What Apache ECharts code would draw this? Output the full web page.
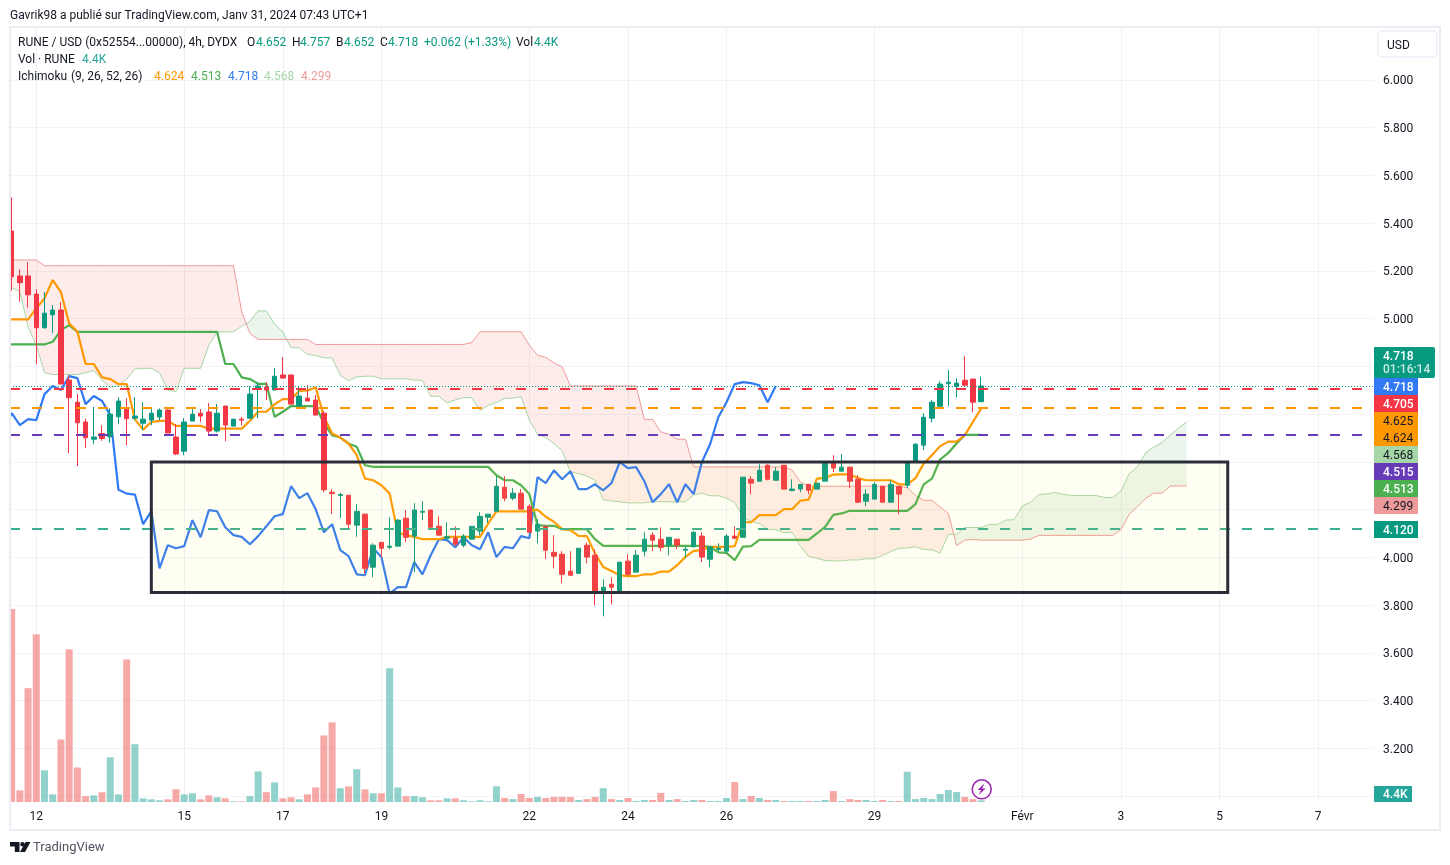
<!DOCTYPE html>
<html>
<head>
<meta charset="utf-8">
<title>RUNE / USD</title>
<style>html,body{margin:0;padding:0;background:#fff}#c{width:1450px;height:865px}</style>
<script src="https://cdn.jsdelivr.net/npm/echarts@6/dist/echarts.min.js"></script>
</head>
<body>
<div id="c"></div>
<script>
const opens = [5.367,5.179,5.179,5.103,4.962,5.016,5.036,4.743,4.650,4.567,
4.495,4.519,4.505,4.589,4.621,4.583,4.562,4.575,4.588,4.617,
4.504,4.445,4.571,4.604,4.609,4.529,4.634,4.550,4.579,4.583,
4.705,4.713,4.701,4.764,4.764,4.634,4.667,4.659,4.604,4.273,
4.259,4.260,4.135,4.181,3.959,4.063,4.042,4.047,4.164,4.089,
4.189,4.198,4.130,4.080,4.080,4.051,4.076,4.110,4.168,4.193,
4.294,4.248,4.269,4.214,4.110,4.130,4.021,4.013,3.942,3.933,
4.051,4.009,3.858,3.887,3.854,3.984,3.938,4.026,4.093,4.076,
4.051,4.076,4.030,4.044,4.089,3.992,4.033,4.026,4.089,4.084,
4.327,4.319,4.386,4.323,4.386,4.280,4.286,4.306,4.286,4.319,
4.399,4.361,4.378,4.327,4.235,4.244,4.298,4.231,4.298,4.302,
4.399,4.470,4.583,4.633,4.727,4.717,4.742,4.747,4.652];
const closes = [5.176,5.151,5.100,4.962,5.023,5.036,4.726,4.669,4.564,4.501,
4.504,4.498,4.600,4.655,4.581,4.592,4.579,4.604,4.617,4.521,
4.433,4.567,4.600,4.592,4.529,4.604,4.554,4.579,4.575,4.684,
4.718,4.701,4.759,4.751,4.642,4.676,4.655,4.596,4.283,4.267,
4.263,4.139,4.193,3.954,4.051,4.038,4.047,4.156,4.084,4.198,
4.193,4.126,4.093,4.086,4.055,4.089,4.130,4.172,4.181,4.298,
4.248,4.269,4.202,4.105,4.139,4.030,4.005,3.929,3.925,4.038,
4.001,3.848,3.875,3.875,3.980,3.929,4.009,4.076,4.072,4.042,
4.084,4.051,4.034,4.105,4.001,4.044,4.038,4.089,4.080,4.336,
4.311,4.365,4.327,4.361,4.286,4.286,4.306,4.281,4.311,4.399,
4.374,4.378,4.319,4.231,4.265,4.306,4.231,4.306,4.265,4.399,
4.474,4.587,4.650,4.726,4.734,4.730,4.721,4.650,4.718];
const highs = [5.508,5.207,5.237,5.124,5.111,5.057,5.070,4.762,4.684,4.581,
4.630,4.554,4.624,4.671,4.666,4.671,4.650,4.628,4.624,4.628,
4.558,4.583,4.621,4.621,4.646,4.642,4.634,4.579,4.588,4.718,
4.734,4.734,4.793,4.839,4.764,4.718,4.722,4.680,4.613,4.286,
4.270,4.260,4.223,4.184,4.059,4.063,4.168,4.160,4.198,4.227,
4.235,4.198,4.172,4.147,4.130,4.097,4.130,4.189,4.181,4.340,
4.340,4.290,4.286,4.223,4.160,4.130,4.093,4.026,4.026,4.038,
4.062,4.034,3.908,3.917,3.980,4.013,4.030,4.105,4.105,4.126,
4.084,4.076,4.047,4.110,4.105,4.047,4.059,4.097,4.130,4.336,
4.340,4.390,4.390,4.378,4.386,4.327,4.306,4.306,4.311,4.399,
4.428,4.432,4.378,4.344,4.286,4.315,4.298,4.323,4.298,4.403,
4.478,4.604,4.659,4.738,4.784,4.751,4.843,4.747,4.757];
const lows = [5.117,5.071,5.046,4.810,4.958,4.941,4.726,4.437,4.382,4.459,
4.474,4.488,4.480,4.558,4.470,4.575,4.533,4.554,4.575,4.521,
4.428,4.428,4.571,4.567,4.515,4.523,4.487,4.550,4.553,4.583,
4.583,4.659,4.701,4.751,4.642,4.631,4.655,4.596,4.273,4.181,
4.165,4.118,4.086,3.933,3.917,3.999,4.034,4.047,4.063,3.938,
4.156,4.114,4.093,4.070,4.047,4.042,4.076,4.093,4.144,4.193,
4.235,4.239,4.202,4.105,4.059,3.992,3.954,3.892,3.921,3.933,
3.975,3.799,3.753,3.804,3.854,3.921,3.938,4.005,4.026,4.026,
4.009,4.034,4.000,4.044,3.980,3.959,4.021,4.016,4.076,4.084,
4.265,4.319,4.323,4.323,4.286,4.277,4.273,4.265,4.286,4.319,
4.357,4.361,4.290,4.227,4.214,4.244,4.231,4.231,4.181,4.290,
4.399,4.449,4.566,4.625,4.633,4.671,4.721,4.608,4.652];
const volumes = [531,32,313,461,87,21,172,420,95,16,
18,27,123,21,392,159,10,7.4,4.7,7.4,
35,21,24,7.4,18,13,10,2,2,16,
84,27,54,10,13,7.4,21,40,183,219,
38,43,90,35,24,24,368,40,16,16,
13,4.7,4.7,10,10,4.7,2,4.7,2,43,
11,8,22,11,14,11,14,14,14,5.5,
8,14,38,8,5.5,11,2.8,5.5,5.5,25,
5.5,8,2.8,5.5,5.5,2.8,2.8,11,55,8,
16.5,11,5.5,5.5,2.8,2.8,2.8,2.8,2.8,5.5,
30,2.8,8,5.5,5.5,2.8,5.5,2.8,2.8,83,
8,11,8,22,33,27.5,14,8,4.4];
// Ichimoku lines: these lists begin one bar before the first candle
const tenkan = [4.997,4.997,4.997,4.997,5.043,5.085,5.162,5.111,4.980,4.945,4.810,
4.810,4.754,4.747,4.726,4.726,4.578,4.535,4.567,4.572,4.572,
4.551,4.551,4.551,4.551,4.539,4.539,4.539,4.539,4.539,4.572,
4.610,4.610,4.641,4.663,4.663,4.697,4.699,4.712,4.589,4.519,
4.502,4.477,4.428,4.330,4.323,4.302,4.267,4.103,4.093,4.086,
4.076,4.076,4.076,4.086,4.086,4.086,4.086,4.086,4.142,4.193,
4.193,4.193,4.193,4.193,4.200,4.170,4.149,4.118,4.114,4.090,
4.089,4.016,3.960,3.943,3.925,3.921,3.921,3.929,3.929,3.940,
3.940,3.967,4.002,4.027,4.030,4.044,4.044,4.044,4.047,4.147,
4.147,4.177,4.177,4.177,4.202,4.202,4.238,4.242,4.330,4.333,
4.347,4.348,4.348,4.332,4.323,4.323,4.323,4.323,4.306,4.306,
4.332,4.393,4.428,4.466,4.485,4.485,4.512,4.568,4.624];
const kijun = [4.892,4.892,4.892,4.892,4.892,4.892,4.903,4.952,4.973,4.945,4.945,
4.945,4.945,4.945,4.945,4.945,4.945,4.945,4.945,4.945,4.945,
4.945,4.945,4.945,4.945,4.945,4.945,4.810,4.810,4.754,4.747,
4.727,4.727,4.589,4.610,4.634,4.634,4.634,4.634,4.561,4.512,
4.502,4.477,4.463,4.386,4.379,4.379,4.379,4.379,4.379,4.379,
4.379,4.379,4.379,4.379,4.379,4.379,4.379,4.379,4.379,4.344,
4.323,4.323,4.302,4.265,4.135,4.132,4.132,4.118,4.118,4.118,
4.118,4.076,4.048,4.048,4.048,4.048,4.048,4.048,4.048,4.048,
4.048,4.048,4.048,4.048,4.048,4.044,4.021,4.019,3.988,4.045,
4.047,4.073,4.073,4.073,4.073,4.073,4.073,4.073,4.100,4.128,
4.178,4.184,4.195,4.195,4.195,4.195,4.195,4.195,4.195,4.195,
4.223,4.306,4.330,4.410,4.438,4.477,4.513,4.513,4.513];
const chikou = [4.529,4.604,4.554,4.579,4.575,4.684,
4.718,4.701,4.759,4.751,4.642,4.676,4.655,4.596,4.283,4.267,
4.263,4.139,4.193,3.954,4.051,4.038,4.047,4.156,4.084,4.198,
4.193,4.126,4.093,4.086,4.055,4.089,4.130,4.172,4.181,4.298,
4.248,4.269,4.202,4.105,4.139,4.030,4.005,3.929,3.925,4.038,
4.001,3.848,3.875,3.875,3.980,3.929,4.009,4.076,4.072,4.042,
4.084,4.051,4.034,4.105,4.001,4.044,4.038,4.089,4.080,4.336,
4.311,4.365,4.327,4.361,4.286,4.286,4.306,4.281,4.311,4.399,
4.374,4.378,4.319,4.231,4.265,4.306,4.231,4.306,4.265,4.399,
4.474,4.587,4.650,4.726,4.734,4.730,4.721,4.650,4.718];
const senkouA = [5.131,5.131,5.113,4.966,4.889,4.773,4.766,4.766,4.766,4.766,4.773,
4.783,4.743,4.712,4.719,4.747,4.789,4.792,4.792,4.773,4.701,
4.694,4.792,4.792,4.792,4.889,4.945,4.945,4.945,4.968,4.989,
5.033,5.032,4.977,4.945,4.878,4.878,4.850,4.846,4.836,4.836,
4.762,4.740,4.756,4.759,4.759,4.748,4.748,4.748,4.748,4.742,
4.742,4.675,4.675,4.647,4.660,4.669,4.669,4.615,4.637,4.649,
4.666,4.667,4.673,4.575,4.516,4.502,4.477,4.446,4.358,4.351,
4.341,4.323,4.241,4.236,4.233,4.228,4.228,4.228,4.233,4.233,
4.233,4.233,4.233,4.261,4.269,4.258,4.258,4.248,4.229,4.168,
4.151,4.141,4.118,4.116,4.104,4.104,4.046,4.004,3.996,3.987,
3.985,3.985,3.989,3.989,3.994,3.994,4.008,4.025,4.038,4.039,
4.044,4.033,4.032,4.018,4.096,4.097,4.125,4.125,4.125,4.138,
4.138,4.156,4.158,4.215,4.231,4.263,4.266,4.272,4.264,4.259,
4.259,4.259,4.259,4.251,4.251,4.278,4.350,4.379,4.438,4.462,
4.481,4.513,4.541,4.568];
const senkouB = [5.246,5.246,5.246,5.246,5.246,5.222,5.222,5.222,5.222,5.222,5.222,
5.222,5.222,5.222,5.222,5.222,5.222,5.222,5.222,5.222,5.222,
5.222,5.222,5.222,5.222,5.222,5.222,5.222,5.222,5.029,4.938,
4.913,4.913,4.913,4.913,4.913,4.913,4.913,4.892,4.892,4.892,
4.892,4.892,4.892,4.892,4.892,4.892,4.892,4.892,4.892,4.892,
4.892,4.892,4.892,4.892,4.892,4.892,4.900,4.945,4.945,4.945,
4.945,4.945,4.945,4.889,4.847,4.838,4.815,4.798,4.718,4.718,
4.718,4.718,4.718,4.718,4.718,4.718,4.718,4.578,4.578,4.526,
4.515,4.495,4.495,4.379,4.379,4.379,4.379,4.379,4.379,4.379,
4.379,4.379,4.379,4.379,4.379,4.365,4.316,4.298,4.298,4.298,
4.298,4.298,4.298,4.298,4.298,4.298,4.298,4.298,4.298,4.292,
4.260,4.239,4.239,4.211,4.184,4.049,4.072,4.075,4.072,4.072,
4.072,4.072,4.072,4.072,4.076,4.092,4.092,4.092,4.092,4.092,
4.092,4.092,4.092,4.092,4.092,4.116,4.180,4.212,4.247,4.269,
4.269,4.299,4.299,4.299];
const levelPrices = [4.705,4.625,4.515,4.120];
const levelColors = ['#F23645','#FF9800','#673AB7','#3BAE93'];
const lastPrice = [4.718];
const boxBars = [17,148];
const boxPrices = [4.400,3.853];
const timeTicks = [3,21,33,45,63,75,87,105,123,135,147,159];
const timeLabels = ['12','15','17','19','22','24','26','29','Févr','3','5','7'];
const priceGrid = [3.0,3.2,3.4,3.6,3.8,4.0,4.2,4.4,4.6,4.8,5.0,5.2,5.4,5.6,5.8,6.0];
const priceLabels = [3.2,3.4,3.6,3.8,4.0,4.2,4.4,4.6,4.8,5.0,5.2,5.4,5.6,5.8,6.0];

const UP='#089981', DOWN='#F23645', FONT='Roboto, sans-serif';
const BLUE='#3179F5', ORANGE='#FF9800', GREEN='#4CAF50', PALEG='#A5D6A7', PALER='#EF9A9A';
const xMin=-0.2, xMax=165.8, xLevelEnd=164.8;

const toLine=(arr)=>arr.map((v,k)=>[k-1,v]);
// cloud: one polygon per run where the two leading spans keep their order
function cloudRuns(){
  const runs=[]; let cur=null;
  for(let k=0;k<senkouA.length;k++){
    const x=k-1,a=senkouA[k],b=senkouB[k],up=a>=b;
    if(!cur){cur={up,top:[[x,a]],bot:[[x,b]]};continue;}
    if(cur.up!==up){
      const pa=senkouA[k-1],pb=senkouB[k-1],t=(pa-pb)/((pa-pb)-(a-b));
      const cx=x-1+t,cy=pa+(a-pa)*t;
      cur.top.push([cx,cy]);cur.bot.push([cx,cy]);runs.push(cur);
      cur={up,top:[[cx,cy]],bot:[[cx,cy]]};
    }
    cur.top.push([x,a]);cur.bot.push([x,b]);
  }
  runs.push(cur);return runs;
}
const runs=cloudRuns();

function txt(x,y,text,fill,size,weight){
  return {type:'text',z:100,silent:true,style:{x,y,text,fill,font:(weight||'normal')+' '+(size||12)+'px '+FONT,verticalAlign:'middle',align:'left'}};
}
const tags=[
 {y:378,h:17,bg:BLUE,t:'4.718',c:'#fff'},
 {y:395,h:17,bg:DOWN,t:'4.705',c:'#fff'},
 {y:412,h:17,bg:ORANGE,t:'4.625',c:'#131722'},
 {y:429,h:17,bg:ORANGE,t:'4.624',c:'#131722'},
 {y:446,h:17,bg:PALEG,t:'4.568',c:'#131722'},
 {y:463,h:17,bg:'#673AB7',t:'4.515',c:'#fff'},
 {y:480,h:17,bg:GREEN,t:'4.513',c:'#fff'},
 {y:497,h:17,bg:PALER,t:'4.299',c:'#131722'},
 {y:521,h:17,bg:UP,t:'4.120',c:'#fff'}
];
const graphics=[];
// margin left of the pane, then its frame
graphics.push({type:'rect',z:89,silent:true,shape:{x:0,y:27,width:10,height:803},style:{fill:'#fff'}});
graphics.push({type:'rect',z:90,silent:true,shape:{x:10,y:27,width:1430,height:803},style:{fill:'none',stroke:'#ECEDF3',lineWidth:2}});
// price tags
graphics.push({type:'rect',z:99,silent:true,shape:{x:1374,y:347,width:61,height:31,r:[0,2,2,0]},style:{fill:UP}});
graphics.push(txt(1383,356.5,'4.718','#fff',12,500));
graphics.push(txt(1383,370,'01:16:14','#c8e8e2',12,500));
tags.forEach(g=>{
  graphics.push({type:'rect',z:99,silent:true,shape:{x:1374,y:g.y,width:44,height:g.h},style:{fill:g.bg}});
  graphics.push(txt(1383,g.y+g.h/2+1,g.t,g.c,12,g.c==='#fff'?500:'normal'));
});
graphics.push({type:'rect',z:99,silent:true,shape:{x:1374,y:786,width:38,height:16},style:{fill:'#26A69A'}});
graphics.push(txt(1383,795,'4.4K','#fff',12,500));
// currency button
graphics.push({type:'rect',z:99,silent:true,shape:{x:1378,y:31,width:59,height:26,r:4},style:{fill:'#fff',stroke:'#F0F3FA',lineWidth:2}});
graphics.push(txt(1387,45.5,'USD','#131722'));
// header lines
graphics.push(txt(10,16,'Gavrik98 a publié sur TradingView.com, Janv 31, 2024 07:43 UTC+1','#131722'));
graphics.push(txt(18,43,'RUNE / USD (0x52554...00000), 4h, DYDX','#131722'));
[[247,'O'],[292,'H'],[336,'B'],[380,'C'],[516,'Vol']].forEach(p=>graphics.push(txt(p[0],43,p[1],'#131722')));
[[256,'4.652'],[300,'4.757'],[344,'4.652'],[388,'4.718'],[424,'+0.062 (+1.33%)'],[534,'4.4K']].forEach(p=>graphics.push(txt(p[0],43,p[1],UP)));
graphics.push(txt(18,60,'Vol · RUNE','#131722'));
graphics.push(txt(82,60,'4.4K','#26A69A'));
graphics.push(txt(18,77,'Ichimoku','#131722'));
graphics.push(txt(71,77,'(9, 26, 52, 26)','#131722'));
[[154,'4.624',ORANGE],[191,'4.513',GREEN],[228,'4.718',BLUE],[264,'4.568',PALEG],[301,'4.299',PALER]].forEach(p=>graphics.push(txt(p[0],77,p[1],p[2])));
// lightning badge
graphics.push({type:'circle',z:99,silent:true,shape:{cx:981.7,cy:789.3,r:9.5},style:{fill:'#fff',stroke:'#9C27B0',lineWidth:1.6}});
graphics.push({type:'polygon',z:99,silent:true,shape:{points:[[984.5,783.5],[977.5,790],[981,790],[978.5,795],[985.8,788.5],[982.2,788.5]]},style:{fill:'#9C27B0'}});
// TradingView logo
graphics.push({type:'polygon',z:99,silent:true,shape:{points:[[10,842],[19.5,842],[19.5,852],[14.8,852],[14.8,846.5],[10,846.5]]},style:{fill:'#131722'}});
graphics.push({type:'circle',z:99,silent:true,shape:{cx:22.5,cy:844.2,r:2.2},style:{fill:'#131722'}});
graphics.push({type:'polygon',z:99,silent:true,shape:{points:[[25.5,842],[30.5,842],[25,852],[20,852]]},style:{fill:'#131722'}});
graphics.push(txt(33,848,'TradingView','#50535E',13));

const chart=echarts.init(document.getElementById('c'),null,{renderer:'canvas'});
chart.setOption({
  animation:false,
  backgroundColor:'#fff',
  textStyle:{fontFamily:FONT},
  grid:{left:10,top:27,width:1364,height:775,containLabel:false},
  xAxis:{
    type:'value',min:xMin,max:xMax,
    axisLine:{show:false},
    axisTick:{show:false,customValues:timeTicks},
    axisLabel:{customValues:timeTicks,margin:9,fontSize:12,color:'#131722',fontFamily:FONT,
      formatter:v=>{const k=timeTicks.indexOf(Math.round(v));return k<0?'':timeLabels[k];}},
    splitLine:{show:true,lineStyle:{color:'#EFF1F6',width:1}}
  },
  yAxis:[{
    type:'value',position:'right',min:2.975,max:6.222,
    axisLine:{show:false},
    axisTick:{show:false,customValues:priceGrid},
    axisLabel:{customValues:priceLabels,margin:9,formatter:v=>'{p|'+v.toFixed(3)+'}',
      rich:{p:{fontSize:12,color:'#131722',fontFamily:FONT,padding:[3,0,0,0]}}},
    splitLine:{show:true,lineStyle:{color:'#F3F4F8',width:1}}
  },{
    type:'value',min:0,max:2131,show:false,splitLine:{show:false}
  }],
  graphic:{elements:graphics},
  series:[
    {name:'Vol',type:'bar',yAxisIndex:1,z:1,barWidth:7,silent:true,
     data:volumes.map((v,i)=>({value:[i,v],itemStyle:{color:closes[i]>=opens[i]?'rgba(38,166,154,0.5)':'rgba(239,83,80,0.5)'}}))},
    {name:'Cloud',type:'custom',z:2,silent:true,clip:true,
     data:runs.map((r,k)=>[k,4]),
     encode:{x:0,y:1},
     renderItem:(params,api)=>{
       const r=runs[params.dataIndex];
       const pts=r.top.concat(r.bot.slice().reverse()).map(p=>api.coord(p));
       return {type:'polygon',shape:{points:pts},style:{fill:r.up?'rgba(67,160,71,0.1)':'rgba(244,67,54,0.1)'}};
     }},
    {name:'Senkou A',type:'line',z:3,symbol:'none',silent:true,data:toLine(senkouA),lineStyle:{color:PALEG,width:1}},
    {name:'Senkou B',type:'line',z:3,symbol:'none',silent:true,data:toLine(senkouB),lineStyle:{color:PALER,width:1}},
    {name:'Chikou',type:'line',z:3,symbol:'none',silent:true,data:toLine(chikou),lineStyle:{color:BLUE,width:2.2}},
    {name:'Kijun',type:'line',z:3,symbol:'none',silent:true,data:toLine(kijun),lineStyle:{color:GREEN,width:2.2}},
    {name:'Tenkan',type:'line',z:3,symbol:'none',silent:true,data:toLine(tenkan),lineStyle:{color:ORANGE,width:2.2}},
    {name:'RUNE',type:'candlestick',z:4,silent:true,barWidth:5,
     encode:{x:0,y:[1,2,3,4]},
     data:opens.map((o,i)=>[i,o,closes[i],lows[i],highs[i]]),
     itemStyle:{color:UP,color0:DOWN,borderColor:UP,borderColor0:DOWN,borderColorDoji:UP,borderWidth:1}},
    {name:'Drawings',type:'line',z:5,symbol:'none',silent:true,data:[],
     markLine:{z:5,silent:true,symbol:'none',label:{show:false},animation:false,
       data:levelPrices.map((p,i)=>[
         {coord:[xMin,p],lineStyle:{color:levelColors[i],width:2,type:[10,12]}},
         {coord:[xLevelEnd,p]}
       ]).concat([[
         {coord:[xMin,lastPrice[0]],lineStyle:{color:UP,width:1,type:[1,2]}},
         {coord:[xMax,lastPrice[0]]}
       ]])},
     markArea:{z:6,silent:true,label:{show:false},
       itemStyle:{color:'rgba(255,235,59,0.066)',borderColor:'#2A2E39',borderWidth:3},
       data:[[{coord:[boxBars[0],boxPrices[0]]},{coord:[boxBars[1],boxPrices[1]]}]]}
    }
  ]
});
</script>
</body>
</html>
